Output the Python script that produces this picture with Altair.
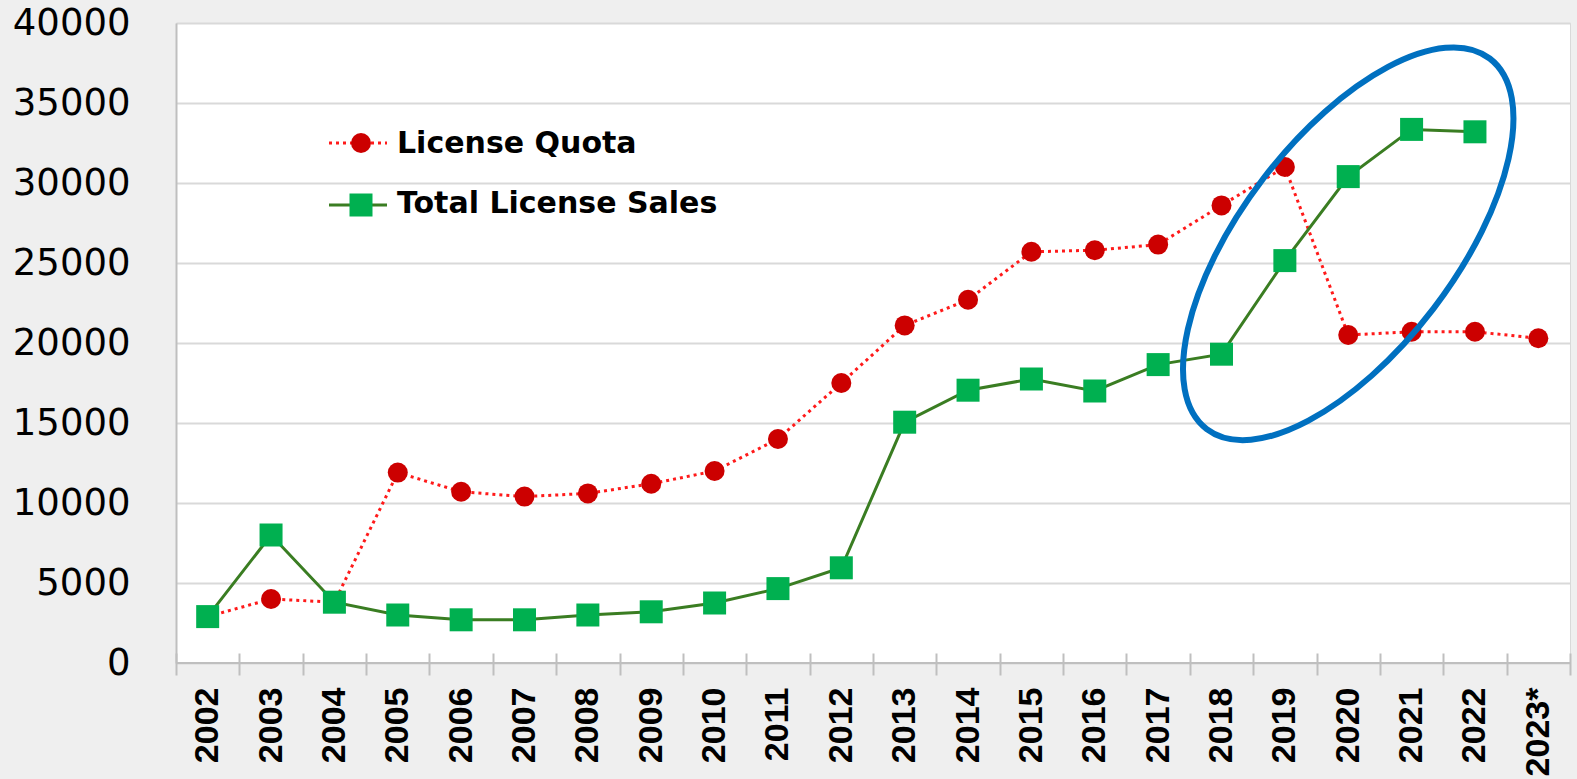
import altair as alt
import pandas as pd

years = ["2002", "2003", "2004", "2005", "2006", "2007", "2008", "2009", "2010", "2011",
         "2012", "2013", "2014", "2015", "2016", "2017", "2018", "2019", "2020", "2021",
         "2022", "2023*"]
quota = [2900, 4000, 3800, 11900, 10700, 10400, 10600, 11200, 12000, 14000,
         17500, 21100, 22700, 25700, 25800, 26150, 28600, 31000, 20500, 20700,
         20700, 20300]
sales = [2900, 8000, 3800, 3000, 2700, 2700, 3000, 3200, 3750, 4650,
         5950, 15050, 17050, 17750, 17000, 18650, 19300, 25150, 30400, 33350,
         33200, None]
series_names = ["License Quota", "Total License Sales"]
y_ticks = [0, 5000, 10000, 15000, 20000, 25000, 30000, 35000, 40000]

# annotation ellipse anchor (data coordinates)
ellipse_year = ["2020"]
ellipse_value = [26200]

df_q = pd.DataFrame({"Year": years, "Value": quota})
df_s = pd.DataFrame({"Year": years, "Value": sales}).dropna()
df_e = pd.DataFrame({"Year": ellipse_year, "Value": ellipse_value})

XFONT = "Liberation Sans"

x_enc = alt.X(
    "Year:N", sort=years,
    scale=alt.Scale(type="band", domain=years, paddingInner=0, paddingOuter=0),
    axis=alt.Axis(title=None, labelAngle=-90, tickBand="extent", offset=-10,
                  tickSize=22, tickColor="#bfbfbf", tickWidth=2, domain=False,
                  grid=False, labelFont=XFONT, labelFontSize=34,
                  labelFontWeight="bold", labelColor="black", labelPadding=12),
)
y_enc = alt.Y(
    "Value:Q",
    scale=alt.Scale(domain=[0, 40000], nice=False),
    axis=alt.Axis(title=None, values=y_ticks, format="d", grid=True,
                  gridColor="#d9d9d9", gridWidth=2, ticks=False, tickSize=0,
                  labelPadding=46, labelFont="DejaVu Sans", labelFontSize=37,
                  labelColor="black", domainColor="#bfbfbf", domainWidth=2),
)

q_line = alt.Chart(df_q).mark_line(color="#ff1a1a", strokeDash=[3, 4], strokeWidth=3).encode(x=x_enc, y=y_enc)
q_pts = alt.Chart(df_q).mark_point(shape="circle", filled=True, size=400,
                                    color="#cc0000", opacity=1).encode(x=x_enc, y=y_enc)
s_line = alt.Chart(df_s).mark_line(color="#3a7d22", strokeWidth=3).encode(x=x_enc, y=y_enc)
s_pts = alt.Chart(df_s).mark_square(size=529, color="#00b050", opacity=1).encode(x=x_enc, y=y_enc)

base_rule = alt.Chart(df_q).mark_rule(color="#bfbfbf", strokeWidth=2).encode(y=alt.datum(0))

ellipse_path = ("M141.5,-185.3 A233,107,-52.6,0,1,-141.5,185.3 "
                "A233,107,-52.6,0,1,141.5,-185.3 Z")
ellipse = alt.Chart(df_e).mark_point(shape=ellipse_path, size=4, filled=False,
                                     stroke="#0070c0", strokeWidth=6, opacity=1).encode(x=x_enc, y=y_enc)

df_l1 = pd.DataFrame({"s": [series_names[0]]})
df_l2 = pd.DataFrame({"s": [series_names[1]]})

leg1_line = alt.Chart(df_l1).mark_rule(color="#ff1a1a", strokeDash=[3, 4], strokeWidth=3).encode(
    x=alt.value(153), x2=alt.value(211), y=alt.value(120))
leg1_pt = alt.Chart(df_l1).mark_point(shape="circle", filled=True, size=400, color="#cc0000",
                                      opacity=1).encode(x=alt.value(185), y=alt.value(120))
leg1_txt = alt.Chart(df_l1).mark_text(align="left", baseline="middle", font="DejaVu Sans",
                                      fontSize=30, fontWeight="bold", color="black").encode(
    text="s:N", x=alt.value(221), y=alt.value(121))

leg2_line = alt.Chart(df_l2).mark_rule(color="#3a7d22", strokeWidth=3).encode(
    x=alt.value(153), x2=alt.value(211), y=alt.value(182))
leg2_pt = alt.Chart(df_l2).mark_square(size=529, color="#00b050", opacity=1).encode(
    x=alt.value(185), y=alt.value(182))
leg2_txt = alt.Chart(df_l2).mark_text(align="left", baseline="middle", font="DejaVu Sans",
                                      fontSize=30, fontWeight="bold", color="black").encode(
    text="s:N", x=alt.value(221), y=alt.value(181))

chart = alt.layer(
    q_line, q_pts, s_line, s_pts, base_rule, ellipse,
    leg1_line, leg1_pt, leg1_txt, leg2_line, leg2_pt, leg2_txt,
).properties(
    width=1394, height=640,
    padding={"left": 176, "top": 23, "right": 7, "bottom": 116},
    autosize=alt.AutoSizeParams(type="none"),
    background="#efefef",
).configure_view(fill="white", stroke="#d9d9d9")

chart.save("out.html", embed_options={"renderer": "svg", "actions": False})
